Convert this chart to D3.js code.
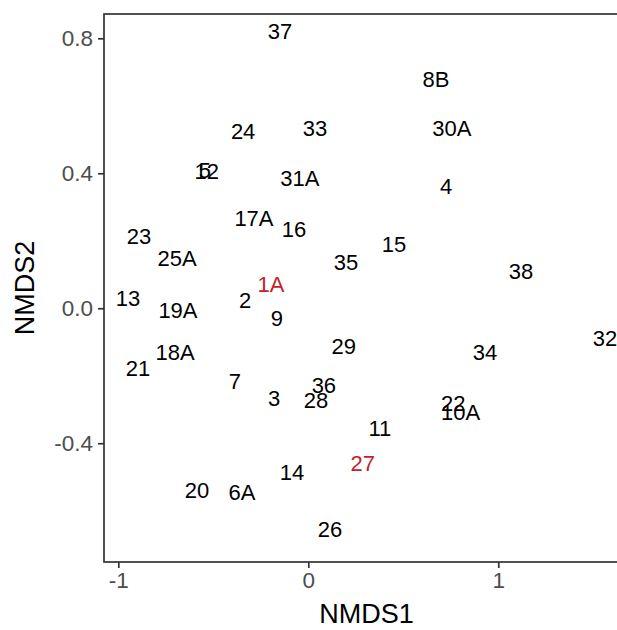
<!DOCTYPE html>
<html>
<head>
<meta charset="utf-8">
<script src="https://cdn.jsdelivr.net/npm/d3@7"></script>
<style>
  html, body { margin: 0; padding: 0; background: #fff; }
  svg { display: block; font-family: "Liberation Sans", Arial, sans-serif; }
</style>
</head>
<body>
<svg id="chart" width="617" height="630"></svg>
<script>
// Site labels with their NMDS ordination scores
const sites = ["37","8B","24","33","30A","12","5","31A","4","17A","16","23","15","25A","35","1A","38","13","2","19A","9","32","29","18A","34","21","7","36","3","28","22","10A","11","27","14","20","6A","26"];
const nmds1 = [-0.149,0.672,-0.343,0.035,0.756,-0.535,-0.545,-0.044,0.725,-0.286,-0.075,-0.891,0.451,-0.691,0.198,-0.196,1.119,-0.949,-0.333,-0.686,-0.165,1.562,0.187,-0.701,0.930,-0.896,-0.386,0.082,-0.180,0.041,0.763,0.802,0.377,0.287,-0.086,-0.586,-0.349,0.114];
const nmds2 = [0.822,0.680,0.525,0.534,0.534,0.407,0.409,0.386,0.362,0.267,0.235,0.214,0.190,0.149,0.137,0.072,0.110,0.031,0.025,-0.005,-0.029,-0.088,-0.112,-0.129,-0.129,-0.177,-0.216,-0.227,-0.266,-0.272,-0.281,-0.307,-0.354,-0.458,-0.485,-0.538,-0.544,-0.654];
const highlighted = ["1A","27"];

const xTicks = [-1, 0, 1];
const yTicks = [-0.4, 0.0, 0.4, 0.8];

const svg = d3.select("#chart");
const panel = { left: 104, right: 629, top: 14, bottom: 562 };

const x = d3.scaleLinear().domain([-1.0753, 1.688]).range([panel.left, panel.right]);
const y = d3.scaleLinear().domain([-0.752, 0.872]).range([panel.bottom, panel.top]);

const lineColor = "#333333";
const tickTextColor = "#4d4d4d";
const hyphen = f => d => f(d).replace("\u2212", "-");

// Panel border
svg.append("rect")
  .attr("x", panel.left).attr("y", panel.top)
  .attr("width", panel.right - panel.left)
  .attr("height", panel.bottom - panel.top)
  .attr("fill", "none")
  .attr("stroke", lineColor)
  .attr("stroke-width", 1.7);

// Axes
const xAxis = d3.axisBottom(x).tickValues(xTicks).tickFormat(hyphen(d3.format("d"))).tickSize(6).tickPadding(4);
const yAxis = d3.axisLeft(y).tickValues(yTicks).tickFormat(hyphen(d3.format(".1f"))).tickSize(6).tickPadding(5);

const gx = svg.append("g").attr("transform", `translate(0,${panel.bottom})`).call(xAxis);
const gy = svg.append("g").attr("transform", `translate(${panel.left},0)`).call(yAxis);

[gx, gy].forEach(g => {
  g.select(".domain").remove();
  g.selectAll(".tick line").attr("stroke", lineColor).attr("stroke-width", 1.7);
  g.selectAll(".tick text")
    .attr("fill", tickTextColor)
    .style("font-size", "22.5px")
    .style("font-family", "'Liberation Sans', Arial, sans-serif");
});

// Site labels placed at their ordination coordinates
svg.append("g")
  .selectAll("text")
  .data(sites.map((s, i) => ({ site: s, a: nmds1[i], b: nmds2[i] })))
  .join("text")
  .attr("x", d => x(d.a))
  .attr("y", d => y(d.b))
  .attr("dy", "0.36em")
  .attr("text-anchor", "middle")
  .style("font-size", "22px")
  .attr("fill", d => highlighted.includes(d.site) ? "#c4222a" : "#000")
  .text(d => d.site);

// Axis titles
svg.append("text")
  .attr("x", (panel.left + panel.right) / 2)
  .attr("y", 623)
  .attr("text-anchor", "middle")
  .style("font-size", "27px")
  .attr("fill", "#000")
  .text("NMDS1");

svg.append("text")
  .attr("transform", `translate(34,${(panel.top + panel.bottom) / 2}) rotate(-90)`)
  .attr("text-anchor", "middle")
  .style("font-size", "27px")
  .attr("fill", "#000")
  .text("NMDS2");
</script>
</body>
</html>
